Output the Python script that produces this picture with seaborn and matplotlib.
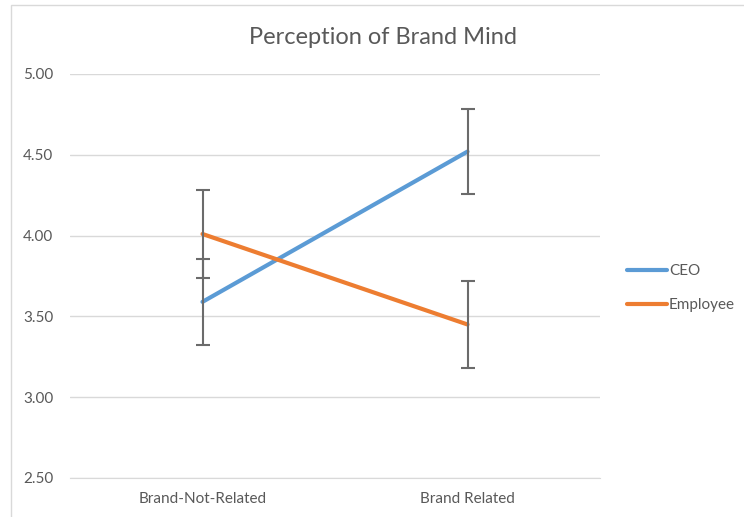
import pandas as pd
import matplotlib
matplotlib.use("Agg")
import matplotlib.pyplot as plt
import seaborn as sns
from matplotlib.patches import Rectangle

# values
conditions = ["Brand-Not-Related", "Brand Related"]
ceo_means = [3.59, 4.52]
ceo_err = [0.265, 0.265]
employee_means = [4.01, 3.45]
employee_err = [0.27, 0.27]

df = pd.DataFrame({
    "Condition": conditions * 2,
    "Score": ceo_means + employee_means,
    "Error": ceo_err + employee_err,
    "Group": ["CEO"] * 2 + ["Employee"] * 2,
})

sns.set_style("white")
plt.rcParams["font.family"] = ["Lato", "DejaVu Sans"]

fig = plt.figure(figsize=(7.44, 5.17), dpi=100)
ax = fig.add_axes([70 / 744, 1 - 478 / 517, 530 / 744, 404 / 517])

palette = {"CEO": "#5B9BD5", "Employee": "#ED7D31"}
sns.lineplot(data=df, x="Condition", y="Score", hue="Group", palette=palette,
             linewidth=3, ax=ax, legend=False, sort=False)

# error bars (drawn in grey like the original)
for g in ["CEO", "Employee"]:
    d = df[df["Group"] == g]
    ax.errorbar(d["Condition"], d["Score"], yerr=d["Error"], fmt="none",
                ecolor="#6b6b6b", elinewidth=1.5, capsize=5, capthick=1.5, zorder=3)

ax.set_xlim(-0.5, 1.5)
ax.set_ylim(2.5, 5.0)
ax.set_yticks([2.5, 3.0, 3.5, 4.0, 4.5, 5.0])
ax.set_yticklabels([f"{v:.2f}" for v in [2.5, 3.0, 3.5, 4.0, 4.5, 5.0]])
ax.grid(axis="y", color="#d9d9d9", linewidth=1)
ax.set_axisbelow(True)
for s in ["top", "right", "left"]:
    ax.spines[s].set_visible(False)
ax.spines["bottom"].set_color("#d9d9d9")
ax.tick_params(axis="both", length=0, labelsize=11, colors="#595959")
ax.tick_params(axis="y", pad=12)
ax.tick_params(axis="x", pad=10)
ax.set_xlabel("")
ax.set_ylabel("")

fig.text(383 / 744, 1 - 37 / 517, "Perception of Brand Mind", ha="center", va="center",
         fontsize=17, color="#595959")

handles = [plt.Line2D([], [], color=palette[g], linewidth=3) for g in ["CEO", "Employee"]]
fig.legend(handles, ["CEO", "Employee"], loc="center left",
           bbox_to_anchor=(627 / 744, 1 - 288 / 517), frameon=False, borderpad=0,
           borderaxespad=0, fontsize=11, labelcolor="#595959", handlelength=2.6,
           handletextpad=0.15, labelspacing=1.3)

# chart border
fig.patches.append(Rectangle((11 / 744, -0.1), 1.2, 1 - 5 / 517 + 0.1,
                             transform=fig.transFigure, fill=False,
                             edgecolor="#d9d9d9", linewidth=1))

fig.savefig("out.png", dpi=100)
